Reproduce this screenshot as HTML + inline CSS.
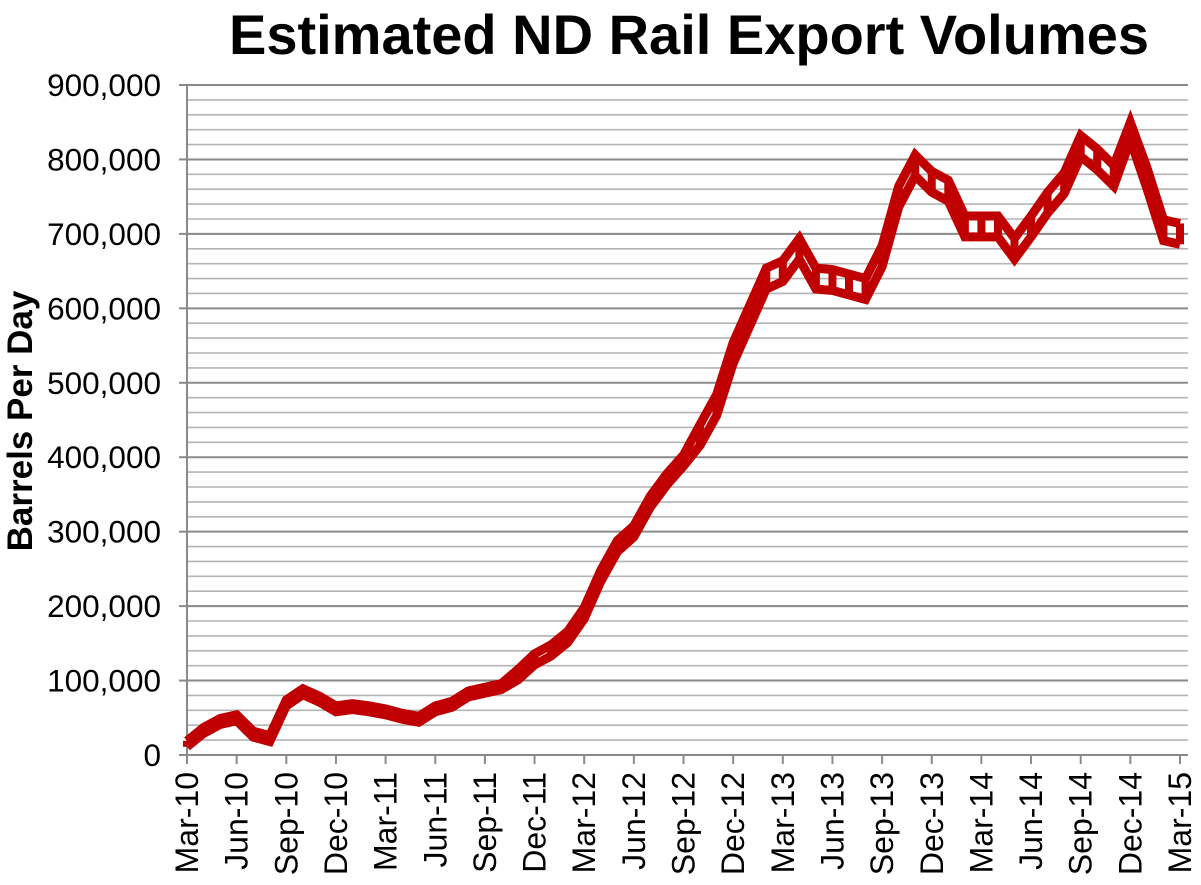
<!DOCTYPE html>
<html><head><meta charset="utf-8"><style>
body{margin:0;background:#fff;}
svg{display:block;font-family:"Liberation Sans",Arial,sans-serif;}
</style></head><body>
<svg id="chart" width="1201" height="885">
<text x="689" y="54" text-anchor="middle" font-size="56" font-weight="bold">Estimated ND Rail Export Volumes</text>
<text transform="translate(32,421) rotate(-90)" text-anchor="middle" font-size="35" font-weight="bold">Barrels Per Day</text>
<g id="grid"></g><g id="axes"></g><g id="series"></g>
</svg>
<script>
const yTicks=[0,100000,200000,300000,400000,500000,600000,700000,800000,900000];
const xLabels=["Mar-10","Jun-10","Sep-10","Dec-10","Mar-11","Jun-11","Sep-11","Dec-11","Mar-12","Jun-12","Sep-12","Dec-12","Mar-13","Jun-13","Sep-13","Dec-13","Mar-14","Jun-14","Sep-14","Dec-14","Mar-15"];
const highSeries=[19000,37000,49000,54000,32000,26000,74000,89000,79000,66000,69000,66000,62000,56000,52000,66000,72000,86000,91000,96000,115000,136000,148000,166000,198000,248000,288000,308000,348000,378000,403000,444000,484000,554000,604000,654000,664000,694000,654000,652000,646000,640000,684000,764000,806000,784000,772000,724000,724000,724000,694000,724000,756000,782000,832000,814000,792000,850000,789000,719000,714000];
const lowSeries=[11000,29000,41000,46000,24000,18000,66000,81000,71000,58000,61000,58000,54000,48000,44000,58000,64000,78000,83000,88000,101000,121000,133000,151000,183000,233000,273000,293000,333000,363000,388000,416000,456000,526000,576000,626000,636000,666000,626000,624000,618000,612000,656000,736000,778000,756000,744000,696000,696000,696000,666000,696000,728000,754000,804000,786000,764000,826000,761000,691000,686000];
const NS="http://www.w3.org/2000/svg";
const x0=187,x1=1188,xStep=16.55,yBase=755,yTop=85,yMax=900000;
const xPos=i=>x0+i*xStep;
const yPos=v=>yBase-(v/yMax)*(yBase-yTop);
function mk(tag,attrs,parent){const e=document.createElementNS(NS,tag);for(const k in attrs)e.setAttribute(k,attrs[k]);parent.appendChild(e);return e;}
const grid=document.getElementById('grid'),axes=document.getElementById('axes'),ser=document.getElementById('series');
for(let v=20000;v<=yMax;v+=20000){
  const major=v%100000===0;
  const l=mk('line',{x1:x0,x2:x1,y1:yPos(v),y2:yPos(v),stroke:major?'#8a8a8a':'#b4b4b4','stroke-width':major?2:1.6},grid);
  
  
}
yTicks.forEach(v=>{
  const t=mk('text',{x:161,y:yPos(v)+11,'text-anchor':'end','font-size':31.5},axes);
  t.textContent=v.toLocaleString('en-US');
  
  
  mk('line',{x1:179,x2:x0,y1:yPos(v),y2:yPos(v),stroke:'#8a8a8a','stroke-width':2},axes);
});
mk('line',{x1:x0,x2:x0,y1:yTop,y2:yBase,stroke:'#8a8a8a','stroke-width':2},axes);
mk('line',{x1:x0,x2:x1,y1:yBase,y2:yBase,stroke:'#8a8a8a','stroke-width':2},axes);
xLabels.forEach((lab,k)=>{
  const x=xPos(k*3);
  mk('line',{x1:x,x2:x,y1:yBase,y2:yBase+9,stroke:'#8a8a8a','stroke-width':2},axes);
  const t=mk('text',{transform:`translate(${x+11},${yBase+17}) rotate(-90)`,'text-anchor':'end','font-size':32},axes);
  t.textContent=lab;
  
  
});
const col='#c00000';
highSeries.forEach((h,i)=>{
  const c=mk('line',{x1:xPos(i),x2:xPos(i),y1:yPos(h),y2:yPos(lowSeries[i]),stroke:col,'stroke-width':8},ser);
  
  
});
[[highSeries,'high-estimate-line'],[lowSeries,'low-estimate-line']].forEach(([arr,name])=>{
  const p=mk('polyline',{points:arr.map((v,i)=>xPos(i)+','+yPos(v)).join(' '),fill:'none',stroke:col,'stroke-width':9,'stroke-linejoin':'miter'},ser);
  
  
});
</script>
</body></html>
